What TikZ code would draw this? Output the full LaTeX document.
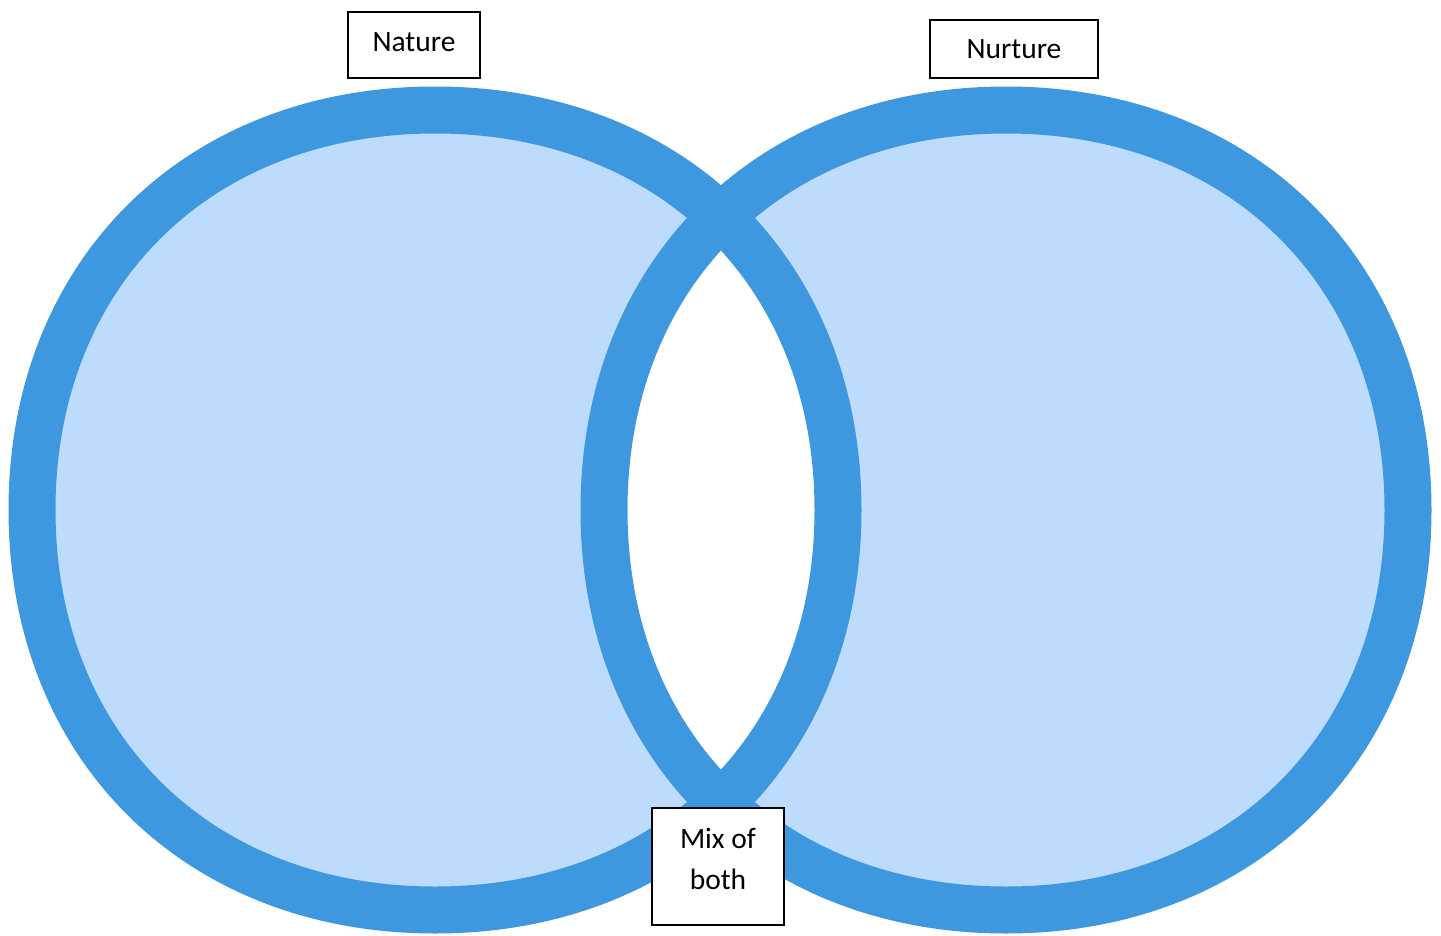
\documentclass[tikz,border=0pt]{standalone}
\usepackage{fontspec}
\setmainfont{Carlito}
\definecolor{ringblue}{RGB}{61,152,224}
\definecolor{fillblue}{RGB}{189,219,252}
\begin{document}
\begin{tikzpicture}[x=1pt,y=-1pt,
  label box/.style={draw=black, line width=2pt, fill=white, inner sep=0pt, align=center,
    font=\fontsize{29.5}{41}\selectfont},
  ring/.style={draw=ringblue, line width=47pt}]
\useasboundingbox (0,0) rectangle (1441,935);
\begin{scope}
\clip (0,0) rectangle (1441,935);
\fill[fillblue, even odd rule]
  (838,510) .. controls (838,746) and (673,910) .. (435,910)
            .. controls (197,910) and (32,746) .. (32,510)
            .. controls (32,274) and (197,110) .. (435,110)
            .. controls (673,110) and (838,274) .. (838,510) -- cycle
  (1408,510) .. controls (1408,746) and (1243,910) .. (1006,910)
            .. controls (769,910) and (604,746) .. (604,510)
            .. controls (604,274) and (769,110) .. (1006,110)
            .. controls (1243,110) and (1408,274) .. (1408,510) -- cycle;
\draw[ring]
  (838,510) .. controls (838,746) and (673,910) .. (435,910)
            .. controls (197,910) and (32,746) .. (32,510)
            .. controls (32,274) and (197,110) .. (435,110)
            .. controls (673,110) and (838,274) .. (838,510) -- cycle;
\draw[ring]
  (1408,510) .. controls (1408,746) and (1243,910) .. (1006,910)
            .. controls (769,910) and (604,746) .. (604,510)
            .. controls (604,274) and (769,110) .. (1006,110)
            .. controls (1243,110) and (1408,274) .. (1408,510) -- cycle;
\end{scope}
\node[label box, minimum width=132pt, minimum height=66pt, text depth=6pt] (nature) at (414,45) {Nature};
\node[label box, minimum width=168pt, minimum height=58pt] (nurture) at (1014,49) {Nurture};
\node[label box, minimum width=132pt, minimum height=117pt, text depth=16pt] (mix) at (718,866.5) {Mix of\\both};
\end{tikzpicture}
\end{document}
